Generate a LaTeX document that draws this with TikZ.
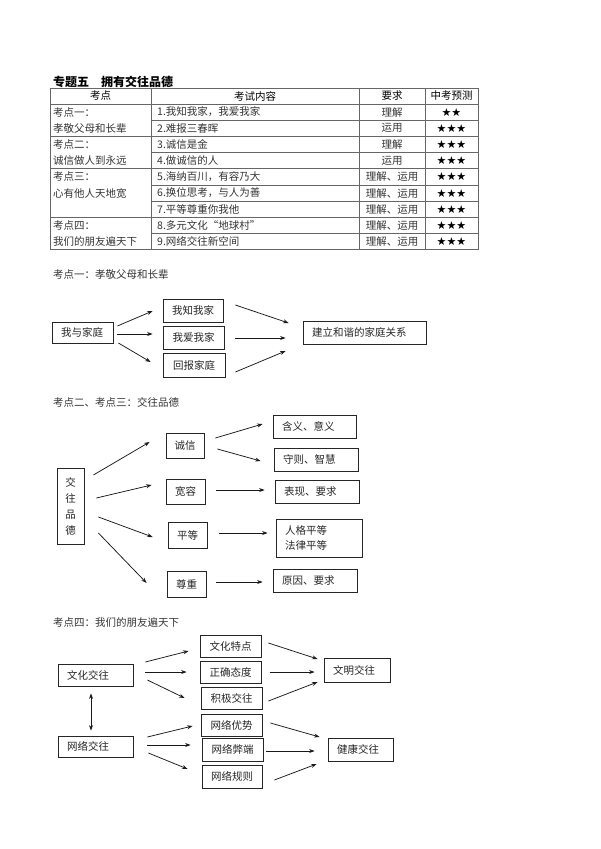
\documentclass[tikz,border=0pt]{standalone}
\usepackage{fontspec}
\setmainfont{Noto Sans CJK SC}
\newfontfamily\starfont{DejaVu Sans}
\usetikzlibrary{arrows.meta}
\usetikzlibrary{calc}

\begin{document}
\begin{tikzpicture}[x=1pt,y=-1pt,
  txt/.style={font=\fontsize{10.5}{13}\selectfont,text=black!80,inner sep=0pt},
  box/.style={draw=black!85,line width=0.8pt,text=black!85,font=\fontsize{10.5}{13}\selectfont,inner sep=0pt,minimum height=23pt},
  lbox/.style={box,align=left,inner xsep=9pt},
  arr/.style={-{Stealth[length=5.5pt,width=4pt]},black!90,line width=0.75pt},
  tabline/.style={black!60,line width=0.9pt}]

\useasboundingbox (0,0) rectangle (600,849);

\node[anchor=west,inner sep=0pt,font=\bfseries\fontsize{12}{14}\selectfont] (title) at (53,82) {专题五　拥有交往品德};

\foreach \y in {88,104,136.4,168.8,217.4,249.8} \draw[tabline] (50,\y) -- (478,\y);
\foreach \y in {120.2,152.6,185,201.2,233.6} \draw[tabline] (151,\y) -- (478,\y);
\foreach \x in {50,151,359,425,478} \draw[tabline] (\x,88) -- (\x,249.8);

\node[txt,text=black] (h1) at (100.5,96) {考点};
\node[txt,text=black] (h2) at (255,96) {考试内容};
\node[txt,text=black] (h3) at (392,96) {要求};
\node[txt,text=black] (h4) at (451.5,96) {中考预测};

\foreach \k/\t in {1/考点一：,2/孝敬父母和长辈,3/考点二：,4/诚信做人到永远,5/考点三：,6/心有他人天地宽,8/考点四：,9/我们的朋友遍天下}
  \node[txt,anchor=west] (g\k) at (53,{104+16.2*(\k-0.5)}) {\t};

\foreach \k/\c/\r/\s in {1/{1.我知我家，我爱我家}/理解/★★,2/{2.难报三春晖}/运用/★★★,3/{3.诚信是金}/理解/★★★,4/{4.做诚信的人}/运用/★★★,5/{5.海纳百川，有容乃大}/理解、运用/★★★,6/{6.换位思考，与人为善}/理解、运用/★★★,7/{7.平等尊重你我他}/理解、运用/★★★,8/{8.多元文化“地球村”}/理解、运用/★★★,9/{9.网络交往新空间}/理解、运用/★★★}{
  \node[txt,anchor=west] (c\k) at (157,{104+16.2*(\k-0.5)}) {\c};
  \node[txt] (r\k) at (392,{104+16.2*(\k-0.5)}) {\r};
  \node[txt,text=black,font={\starfont\fontsize{11}{13}\selectfont}] (s\k) at (451.5,{104+16.2*(\k-0.5)}) {\s};
}

\node[txt,anchor=west] (sec1) at (53,275) {考点一：孝敬父母和长辈};
\node[lbox,text width=43pt,minimum height=21pt] (home) at (82.5,332.5) {我与家庭};
\node[box,minimum width=60pt] (know) at (193,310.5) {我知我家};
\node[box,minimum width=61pt] (love) at (193.5,337.5) {我爱我家};
\node[box,minimum width=62pt,minimum height=24pt] (repay) at (194,365) {回报家庭};
\node[lbox,text width=105pt] (harmony) at (364.5,332.5) {建立和谐的家庭关系};
\draw[arr] ($(home.east)+(4,-6.5)$) -- ($(know.west)+(-10,0.5)$);
\draw[arr] ($(home.east)+(4,1.5)$) -- ($(love.west)+(-10,-3.5)$);
\draw[arr] ($(home.east)+(5,10.5)$) -- ($(repay.west)+(-12,-3)$);
\draw[arr] ($(know.east)+(12,-5.5)$) -- ($(harmony.west)+(-14,-9.5)$);
\draw[arr] ($(love.east)+(11,0.5)$) -- ($(harmony.west)+(-17,5.5)$);
\draw[arr] ($(repay.east)+(10,7)$) -- ($(harmony.west)+(-17,18.5)$);

\node[txt,anchor=west] (sec2) at (53,402) {考点二、考点三：交往品德};
\node[box,minimum width=27pt,minimum height=76pt,align=center,font=\fontsize{10.5}{16}\selectfont] (trait) at (70.5,506) {交\\往\\品\\德};
\node[box,minimum width=38pt,minimum height=25pt] (honest) at (185,445.5) {诚信};
\node[box,minimum width=39pt,minimum height=25pt] (tolerant) at (185.5,491.5) {宽容};
\node[box,minimum width=39pt,minimum height=26pt] (equal) at (187.5,535) {平等};
\node[box,minimum width=39pt,minimum height=26pt] (respect) at (186.5,584) {尊重};
\node[lbox,text width=65pt] (meaning) at (314.5,426.5) {含义、意义};
\node[lbox,text width=66pt] (rule) at (316,459.5) {守则、智慧};
\node[lbox,text width=66pt] (show) at (317,491.5) {表现、要求};
\node[lbox,text width=68pt,minimum height=38pt,font=\fontsize{10.5}{15}\selectfont] (equality) at (319,538) {人格平等\\法律平等};
\node[lbox,text width=66pt] (reason) at (315,580.5) {原因、要求};
\draw[arr] ($(trait.east)+(9,-31)$) -- ($(honest.west)+(-16,-3.5)$);
\draw[arr] ($(trait.east)+(12,-8)$) -- ($(tolerant.west)+(-14,-6.5)$);
\draw[arr] ($(trait.east)+(14,11)$) -- ($(equal.west)+(-15,2)$);
\draw[arr] ($(trait.east)+(14,27)$) -- ($(respect.west)+(-20,-1)$);
\draw[arr] ($(honest.east)+(11,-7.5)$) -- ($(meaning.west)+(-10,-2.5)$);
\draw[arr] ($(honest.east)+(13,3.5)$) -- ($(rule.west)+(-13,1.5)$);
\draw[arr] ($(tolerant.east)+(11,-1.5)$) -- ($(show.west)+(-10,-1.5)$);
\draw[arr] ($(equal.east)+(12,-2)$) -- ($(equality.west)+(-8,-5)$);
\draw[arr] ($(respect.east)+(10,-2)$) -- ($(reason.west)+(-10,1.5)$);

\node[txt,anchor=west] (sec3) at (53,622) {考点四：我们的朋友遍天下};
\node[lbox,text width=57pt,minimum height=22pt] (culture) at (95.5,675) {文化交往};
\node[lbox,text width=57pt,minimum height=21pt] (net) at (95.5,746.5) {网络交往};
\node[box,minimum width=61pt,minimum height=22pt] (feature) at (230.5,646) {文化特点};
\node[box,minimum width=61pt,minimum height=22pt] (attitude) at (230.5,672) {正确态度};
\node[box,minimum width=61pt,minimum height=22pt] (active) at (231.5,698) {积极交往};
\node[box,minimum width=61pt,minimum height=22pt] (merit) at (231.5,725) {网络优势};
\node[box,minimum width=61pt] (harm) at (232.5,749.5) {网络弊端};
\node[box,minimum width=60pt] (norm) at (232,776.5) {网络规则};
\node[lbox,text width=48pt,minimum height=24pt] (civil) at (357,670) {文明交往};
\node[lbox,text width=47pt] (healthy) at (360.5,749.5) {健康交往};
\draw[arr] ($(culture.east)+(12,-13)$) -- ($(feature.west)+(-11,5)$);
\draw[arr] ($(culture.east)+(12,-3)$) -- ($(attitude.west)+(-13,0)$);
\draw[arr] ($(culture.east)+(14,5)$) -- ($(active.west)+(-16,0)$);
\draw[arr,{Stealth[length=5.5pt,width=4pt]}-{Stealth[length=5.5pt,width=4pt]}] ($(culture.south)+(-4.5,7)$) -- ($(net.north)+(-4.5,-5)$);
\draw[arr] ($(net.east)+(14,-9.5)$) -- ($(merit.west)+(-8,1)$);
\draw[arr] ($(net.east)+(14,-1.5)$) -- ($(harm.west)+(-11,-4.5)$);
\draw[arr] ($(net.east)+(15,6.5)$) -- ($(norm.west)+(-14,-7.5)$);
\draw[arr] ($(feature.east)+(7,-3)$) -- ($(civil.west)+(-6,-11)$);
\draw[arr] ($(attitude.east)+(9,0)$) -- ($(civil.west)+(-9,2)$);
\draw[arr] ($(active.east)+(6,3)$) -- ($(civil.west)+(-6,12)$);
\draw[arr] ($(merit.east)+(8,-2)$) -- ($(healthy.west)+(-8,-12.5)$);
\draw[arr] ($(harm.east)+(3,1.5)$) -- ($(healthy.west)+(-13,1.5)$);
\draw[arr] ($(norm.east)+(12,3.5)$) -- ($(healthy.west)+(-11,14.5)$);

\end{tikzpicture}
\end{document}
